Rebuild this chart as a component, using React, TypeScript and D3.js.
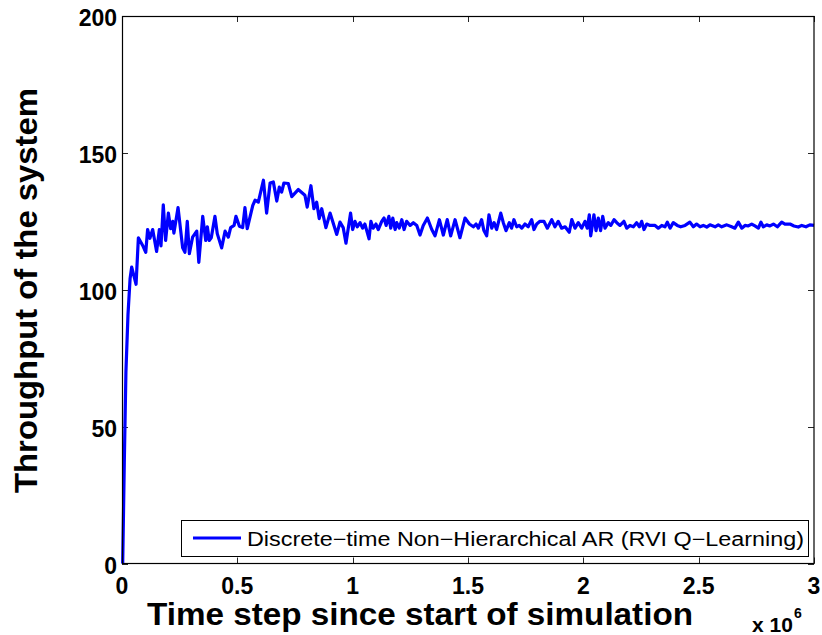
import { useEffect, useRef } from 'react'
import * as d3 from 'd3'

// time step (x 10^6) and throughput
const steps = [
  0.003, 0.010, 0.017, 0.026, 0.035, 0.042, 0.061, 0.071, 0.092, 0.103, 0.111, 0.121, 0.133, 0.150, 0.162, 0.169,
  0.179, 0.189, 0.201, 0.211, 0.220, 0.225, 0.243, 0.263, 0.273, 0.283, 0.292, 0.306, 0.324, 0.333, 0.350, 0.363,
  0.370, 0.378, 0.387, 0.403, 0.413, 0.432, 0.447, 0.461, 0.471, 0.486, 0.494, 0.509, 0.523, 0.533, 0.543, 0.567,
  0.577, 0.591, 0.613, 0.627, 0.642, 0.656, 0.671, 0.682, 0.692, 0.702, 0.721, 0.736, 0.764, 0.793, 0.803, 0.819,
  0.832, 0.844, 0.855, 0.866, 0.884, 0.902, 0.931, 0.945, 0.959, 0.971, 0.991, 1.000, 1.010, 1.020, 1.032, 1.043,
  1.053, 1.061, 1.071, 1.079, 1.089, 1.101, 1.111, 1.126, 1.136, 1.145, 1.157, 1.165, 1.174, 1.184, 1.191, 1.202,
  1.213, 1.223, 1.234, 1.249, 1.263, 1.278, 1.292, 1.306, 1.324, 1.343, 1.357, 1.376, 1.393, 1.410, 1.425, 1.444,
  1.465, 1.487, 1.506, 1.523, 1.535, 1.545, 1.559, 1.569, 1.581, 1.591, 1.603, 1.613, 1.624, 1.642, 1.653, 1.665,
  1.679, 1.689, 1.699, 1.711, 1.722, 1.733, 1.747, 1.761, 1.776, 1.786, 1.798, 1.812, 1.829, 1.844, 1.863, 1.877,
  1.891, 1.906, 1.921, 1.939, 1.950, 1.964, 1.978, 1.993, 2.007, 2.017, 2.026, 2.032, 2.046, 2.055, 2.065, 2.075,
  2.084, 2.094, 2.108, 2.119, 2.133, 2.145, 2.159, 2.176, 2.188, 2.202, 2.217, 2.231, 2.243, 2.253, 2.263, 2.275,
  2.289, 2.311, 2.325, 2.340, 2.354, 2.364, 2.376, 2.390, 2.407, 2.422, 2.441, 2.462, 2.477, 2.491, 2.506, 2.520,
  2.535, 2.549, 2.571, 2.585, 2.600, 2.622, 2.643, 2.657, 2.672, 2.687, 2.701, 2.715, 2.730, 2.744, 2.759, 2.770,
  2.780, 2.795, 2.809, 2.824, 2.841, 2.860, 2.874, 2.896, 2.913, 2.932, 2.947, 2.965, 2.982, 3.000,
]
const throughput = [
  0, 37, 70, 91, 104, 108.3, 102, 119, 115.8, 113.7, 122, 118.8, 122, 114, 122, 116,
  131, 118, 128, 122.3, 125, 120.7, 130, 115.3, 113.7, 125, 113.2, 119.2, 121.4, 110, 126.8, 118,
  123, 118, 119, 126.8, 120.5, 115.3, 121.4, 119.2, 122.7, 123.5, 126.8, 123.2, 122.7, 130, 122.3, 130.8,
  132.7, 132, 140, 128, 139, 139.4, 132.4, 137.5, 135.7, 139, 138.8, 134, 136.6, 134.5, 130.2, 138,
  129.6, 132, 126, 129.6, 122.7, 128, 120.2, 124.7, 122.7, 117, 128, 122, 125, 123, 124.5, 122.5,
  124, 121.6, 118.6, 125, 122.5, 124, 122, 125, 126.2, 123.5, 126.8, 122.5, 126.2, 122, 124.5, 122.5,
  125.6, 122, 125, 123.5, 124.5, 123.5, 120, 123.5, 126.2, 122, 119.7, 125.6, 120, 125.6, 119.7, 125.6,
  119, 126.2, 124, 123, 124, 122.5, 125.6, 121.6, 119.7, 127.4, 122.5, 124.5, 122, 128, 124.5, 121.6,
  124.5, 122.5, 125.6, 123, 123.5, 122.5, 124, 123, 125.6, 122, 124, 125, 125, 122.5, 125.6, 123,
  125, 122.5, 123, 121, 125.6, 122.5, 124.5, 122.5, 125, 122.5, 127.4, 119.7, 127.4, 121.6, 126.2, 121.6,
  126.8, 122.5, 124.5, 123.5, 125.6, 124.5, 123.5, 125, 122.5, 123.5, 123, 124.5, 123, 125, 122, 124,
  123.5, 123.5, 122.5, 123.5, 123, 124.7, 122.5, 124.5, 123.5, 123, 123.5, 124.7, 123, 124, 123, 123.5,
  122.9, 123.7, 123, 123.7, 123, 123.7, 123, 122.5, 124.7, 122.5, 123.5, 123.3, 124, 123.3, 122.5, 124.7,
  123, 123.7, 123.3, 124, 123, 124.7, 124, 124, 123.3, 122.9, 123.5, 123, 123.7, 123.5,
]
const xTicks = [0, 0.5, 1, 1.5, 2, 2.5, 3]
const xTickLabels = ['0', '0.5', '1', '1.5', '2', '2.5', '3']
const yTicks = [0, 50, 100, 150, 200]
const legendLabel = 'Discrete\u2212time Non\u2212Hierarchical AR (RVI Q\u2212Learning)'

const W = 822
const H = 635
const FONT = '"Liberation Sans", Arial, Helvetica, sans-serif'

export default function App() {
  const ref = useRef<SVGSVGElement | null>(null)

  useEffect(() => {
    const el = ref.current
    if (!el) return
    const svg = d3.select(el)
    svg.selectAll('*').remove()

    const margin = { top: 16, right: 8, bottom: 72, left: 122 }
    const innerW = W - margin.left - margin.right
    const innerH = H - margin.top - margin.bottom + 0.5
    const x = d3.scaleLinear().domain([0, 3]).range([0, innerW])
    const y = d3.scaleLinear().domain([0, 200]).range([innerH, 0])

    const g = svg.append('g').attr('transform', `translate(${margin.left},${margin.top})`)
    const tickLen = 6

    // ticks on all four sides, pointing in
    const tk = g.append('g').attr('stroke', '#262626').attr('stroke-width', 1)
    xTicks.forEach((t) => {
      const px = Math.round(x(t)) + 0.5
      tk.append('line').attr('x1', px).attr('x2', px).attr('y1', innerH).attr('y2', innerH - tickLen)
      tk.append('line').attr('x1', px).attr('x2', px).attr('y1', 0).attr('y2', tickLen)
    })
    yTicks.forEach((t) => {
      const py = Math.round(y(t)) + 0.5
      tk.append('line').attr('x1', 0).attr('x2', tickLen).attr('y1', py).attr('y2', py)
      tk.append('line').attr('x1', innerW).attr('x2', innerW - tickLen).attr('y1', py).attr('y2', py)
    })

    // series
    const pts: [number, number][] = steps.map((s, i) => [s, throughput[i]])
    const line = d3.line<[number, number]>().x((d) => x(d[0])).y((d) => y(d[1]))
    g.append('path')
      .datum(pts)
      .attr('d', line)
      .attr('fill', 'none')
      .attr('stroke', '#0000ff')
      .attr('stroke-width', 3.2)
      .attr('stroke-linejoin', 'round')

    // axes box
    g.append('rect')
      .attr('x', 0.5).attr('y', 0.5)
      .attr('width', innerW - 0.5).attr('height', innerH - 0.5)
      .attr('fill', 'none').attr('stroke', '#000').attr('stroke-width', 1.2)

    // tick labels
    g.selectAll('text.xt')
      .data(xTicks)
      .join('text')
      .attr('class', 'xt')
      .attr('x', (d) => x(d))
      .attr('y', innerH + 30)
      .attr('text-anchor', 'middle')
      .attr('font-family', FONT)
      .attr('font-weight', 'bold')
      .attr('font-size', 23)
      .text((_, i) => xTickLabels[i])

    g.selectAll('text.yt')
      .data(yTicks)
      .join('text')
      .attr('class', 'yt')
      .attr('x', -5)
      .attr('y', (d) => y(d) + 10)
      .attr('text-anchor', 'end')
      .attr('font-family', FONT)
      .attr('font-weight', 'bold')
      .attr('font-size', 23)
      .text((d) => d)

    // legend
    const lg = svg.append('g')
    lg.append('rect')
      .attr('x', 181.5).attr('y', 520.5).attr('width', 627).attr('height', 36)
      .attr('fill', '#fff').attr('stroke', '#000').attr('stroke-width', 1)
    lg.append('line')
      .attr('x1', 193).attr('x2', 241).attr('y1', 538).attr('y2', 538)
      .attr('stroke', '#0000ff').attr('stroke-width', 3.2)
    lg.append('text')
      .attr('x', 247).attr('y', 546)
      .attr('font-family', FONT).attr('font-size', 20)
      .attr('textLength', 557).attr('lengthAdjust', 'spacingAndGlyphs')
      .text(legendLabel)

    // axis titles
    svg.append('text')
      .attr('x', 147).attr('y', 625)
      .attr('font-family', FONT).attr('font-weight', 'bold').attr('font-size', 31)
      .attr('textLength', 546).attr('lengthAdjust', 'spacingAndGlyphs')
      .text('Time step since start of simulation')

    svg.append('text')
      .attr('transform', 'translate(37,493) rotate(-90)')
      .attr('font-family', FONT).attr('font-weight', 'bold').attr('font-size', 31)
      .attr('textLength', 405).attr('lengthAdjust', 'spacingAndGlyphs')
      .text('Throughput of the system')

    const mult = svg.append('text')
      .attr('x', 752).attr('y', 632)
      .attr('font-family', FONT).attr('font-weight', 'bold').attr('font-size', 21)
    mult.append('tspan').text('x 10')
    mult.append('tspan').attr('dx', 1).attr('dy', -14).attr('font-size', 14).text('6')
  }, [])

  return (
    <svg
      ref={ref}
      width={W}
      height={H}
      style={{ position: 'absolute', left: 0, top: 0, background: '#fff' }}
    />
  )
}
